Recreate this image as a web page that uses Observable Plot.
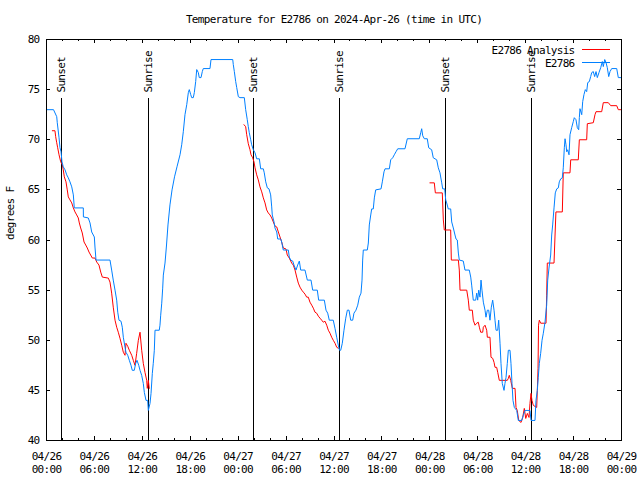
<!DOCTYPE html>
<html><head><meta charset="utf-8">
<script src="https://cdn.jsdelivr.net/npm/d3@7"></script>
<script src="https://cdn.jsdelivr.net/npm/@observablehq/plot@0.6"></script>
<style>body{margin:0;background:#fff} svg{display:block}</style>
</head><body><div id="chart"></div>
<script>
const titleText = "Temperature for E2786 on 2024-Apr-26 (time in UTC)";
const yLabel = "degrees F";
const seriesNames = ["E2786 Analysis", "E2786"];
const seriesColors = ["#ff0000", "#0080ff"];

// hours since 2024-04-26 00:00 UTC
const xTickHours = [0, 6, 12, 18, 24, 30, 36, 42, 48, 54, 60, 66, 72];
const xTickLabels = ["04/26\n00:00","04/26\n06:00","04/26\n12:00","04/26\n18:00","04/27\n00:00","04/27\n06:00","04/27\n12:00","04/27\n18:00","04/28\n00:00","04/28\n06:00","04/28\n12:00","04/28\n18:00","04/29\n00:00"];
const xMinorHours = [2,4,8,10,14,16,20,22,26,28,32,34,38,40,44,46,50,52,56,58,62,64,68,70];
const yTicks = [40, 45, 50, 55, 60, 65, 70, 75, 80];
const yTickLabels = ["40","45","50","55","60","65","70","75","80"];

const sunHours = [1.88, 12.77, 25.92, 36.69, 49.96, 60.73];
const sunLabels = ["Sunset", "Sunrise", "Sunset", "Sunrise", "Sunset", "Sunrise"];

const blueHours = [0,0.88,1.28,1.35,1.57,1.69,1.82,1.94,2.10,2.32,
2.53,2.73,2.94,3.16,3.36,3.48,4.61,4.62,5.23,5.45,
5.66,5.99,6.07,6.20,7.95,8.16,8.36,8.58,8.79,8.92,
9.08,9.33,9.49,9.62,9.83,9.95,10.17,10.37,10.58,10.74,
10.99,11.17,11.33,11.55,11.71,11.92,12.12,12.25,12.46,12.67,
12.75,12.96,13.09,13.25,13.37,13.50,13.59,14.12,14.21,14.30,
14.43,14.55,14.63,14.84,15.03,15.21,15.46,15.72,16.03,16.34,
16.72,16.93,17.13,17.34,17.56,17.76,17.88,18.06,18.18,18.38,
18.51,18.68,18.81,19.01,19.13,19.35,19.51,19.63,20.47,20.60,
23.32,23.39,23.52,23.69,23.82,24.02,24.23,24.77,24.94,25.14,
25.27,25.39,25.57,25.69,25.90,26.11,26.32,26.65,26.82,27.15,
27.27,27.45,27.65,27.86,28.07,28.20,28.27,28.49,28.61,28.83,
28.95,29.33,29.45,29.65,30.28,30.40,30.58,30.83,30.99,31.24,
31.45,31.66,31.83,32.37,32.66,33.12,33.33,33.91,34.08,34.79,
35.00,35.21,35.41,35.91,36.12,36.34,36.54,36.69,36.84,37.04,
37.25,37.47,37.67,37.88,38.09,38.34,38.50,38.75,38.97,39.17,
39.38,39.51,39.59,39.67,40.17,40.30,40.42,40.60,40.72,40.92,
41.05,41.22,41.89,42.05,42.26,42.39,42.93,43.10,43.35,43.55,
43.76,43.98,44.89,45.18,46.68,46.86,46.98,47.11,47.31,47.68,
47.86,48.23,48.43,48.86,49.06,49.27,49.49,49.61,49.86,49.99,
50.11,50.31,50.61,50.74,50.94,51.15,51.28,51.44,51.57,51.69,
52.19,52.40,52.94,53.12,53.24,53.44,53.74,53.87,53.99,54.12,
54.28,54.41,54.53,54.70,54.91,55.03,55.20,55.37,55.53,55.70,
55.87,56.04,56.16,56.29,56.50,56.62,56.79,56.91,57.07,57.29,
57.41,57.54,57.70,57.83,58.04,58.16,58.29,58.41,58.58,58.88,
59.08,59.50,59.70,59.92,60.54,60.67,61.17,61.29,61.46,61.58,
61.71,61.88,62.05,62.21,62.42,62.63,62.76,62.92,63.13,63.26,
63.38,63.55,63.71,63.89,64.09,64.21,64.39,64.59,64.71,64.84,
64.93,65.05,65.14,65.26,65.43,65.55,65.76,65.96,66.09,66.30,
66.47,66.64,66.72,66.80,67.02,67.14,67.30,67.47,67.64,67.77,
67.97,68.14,68.27,68.47,68.64,68.81,68.97,69.18,69.40,69.60,
69.72,69.90,70.06,70.22,70.40,70.56,70.77,71.40,71.60,72];
const blueTemps = [73,73,72.3,71.7,70.2,69.2,68.8,67.8,67.3,67,
66.5,66.2,65.8,65.3,64.5,63.2,63.2,62.3,62.2,61.7,
60.8,60.3,59.3,58,58,57,56,55,54,52.8,
52,51.9,51.3,50.3,49.3,48.8,48.5,48,47.5,47,
47,47.7,48,47.5,47,46.5,45.7,44.8,44,44,
43,43.7,44.7,46.7,47.7,49,51,51,51.5,52.5,
53.7,55.2,56.5,57.7,59.5,61.5,63.5,65,66.3,67.3,
68.5,69.5,70.8,72.5,73.5,74.7,75,74.5,74.2,74.2,
74.7,75.8,77,76.7,76.2,76.2,76.8,77.1,77.1,78,
78,77.5,76.8,75.8,75.2,74.3,74.2,74.2,73,72,
71.3,70.7,70,69.5,69,68.7,68.1,68.1,67.1,67.1,
66.7,65.8,65.2,65.1,64.5,63.3,62.5,61.8,61.2,60.8,
60.1,60.1,59.8,59,59,58.3,58,57.9,57.5,57,
57.5,57.9,57,57,56,56,55,55,54,54,
53,52.7,52,52,51.2,50.3,49.5,49,49,49.7,
51,52.2,53,53,52,52,52.7,53,53.5,54.3,
54.7,56,58,59,59,59.7,61.5,62.5,63.1,63.1,
64.2,65,65.1,65.8,66.8,67.1,67.1,68,68.2,68.5,
68.8,69.1,69.1,70.1,70.1,70.7,71.1,70.4,70.1,70.1,
69.2,69,68.2,68,67.2,66.7,65.7,65.1,65.1,64,
63.7,63.1,63.1,61.8,61.2,60.5,60.1,60,58.7,58,
57.9,57,57,56.3,55.5,54,54,54.7,54,55,
54.3,56,55,53.8,53,52.3,53,53,52,53.3,
54,53,52,51,51,52,49.7,47.7,45.7,45,
45.7,46.3,47.7,49,49,47.7,45.7,44,43.3,43,
42,42,42.5,43,43,42,42,44,45,46.3,
47.7,48.7,50,50.7,51.8,53.5,56,57.2,58.5,60.5,
61.5,63.2,64.7,65.1,65.2,65.8,66.1,66.2,67.2,69.2,
70.1,69.5,68.8,69,68.5,70.5,71.2,71.8,72.2,72,
71.2,71,72.2,73.1,72.5,73.8,74.5,75,74.8,75.7,
75.8,76.3,76.7,76.8,76.3,76.8,76.2,76.7,77.2,77.8,
77.3,78,77.7,77.2,76.3,76.8,77.1,77.1,76.2,76.2];

const redHours1 = [0.73,1.06,1.15,1.28,1.40,1.57,1.78,1.98,2.10,2.23,
2.44,2.60,2.73,2.94,3.16,3.36,3.57,3.78,3.98,4.11,
4.28,4.48,4.70,4.91,5.11,5.32,5.53,5.74,6.07,6.29,
6.57,6.79,6.99,7.74,7.95,8.16,8.36,8.58,8.79,8.99,
9.20,9.42,9.62,9.83,9.95,10.17,10.37,10.67,10.87,11.08,
11.29,11.50,11.71,11.92,12.12,12.33,12.55,12.62,12.75,12.87];
const redTemps1 = [70.9,70.9,70.3,69.7,69.2,68.5,67.8,67.5,67,66.3,
65.8,65,64.3,64,63.7,63.2,62.8,62.5,62.2,61.7,
61.2,60.7,59.8,59.5,59.2,58.8,58.5,58.2,58.2,57.8,
57.5,56.8,56.3,56.2,55.8,54.7,53.3,52,51.3,50.8,
50.2,49.5,48.8,48.5,49.7,49.4,49,48.5,48,47.5,
48.7,50,50.8,49,47.7,46.8,46,45.2,46,45.2];
const redHours2 = [24.73,24.94,25.07,25.27,25.48,25.61,25.82,25.98,26.11,26.32,
26.52,26.73,26.95,27.15,27.36,27.57,27.77,27.99,28.20,28.40,
28.61,28.83,29.03,29.24,29.45,29.65,29.99,30.15,30.40,30.70,
30.90,31.12,31.33,31.53,31.74,31.96,32.16,32.37,32.58,32.78,
32.99,33.21,33.41,33.62,33.83,34.04,34.25,34.46,34.66,34.87,
35.09,35.29,35.50,35.71,35.91,36.13,36.34,36.54];
const redTemps2 = [71.5,71.3,70.5,69.6,69,68.5,68.2,67.8,67.2,66.5,
66,65.3,64.8,64.2,63.7,63,62.7,62.5,62.2,61.8,
61.4,61.3,60.8,60.3,59.8,59.2,59.1,58.5,58.2,57.7,
57.5,57,56.3,55.7,55.3,55,54.8,54.6,54.3,54.3,
53.8,53.5,53.2,52.8,52.7,52.4,52.2,52,51.8,51.9,
51.5,51,50.7,50.3,50,49.7,49.3,49.2];
const redHours3 = [48.01,48.56,48.69,49.56,49.69,49.81,50.61,50.69,51.57,51.69,
51.78,52.62,52.82,52.94,53.32,53.44,53.66,53.87,54.07,54.20,
54.37,54.62,54.70,54.91,55.12,55.20,55.53,55.66,55.87,56.04,
56.16,56.37,56.50,56.70,57.70,57.83,57.95,58.13,58.33,58.67,
58.79,58.95,59.13,59.42,59.63,59.83,60.01,60.21,60.42,60.54,
60.67,60.79,60.96,61.38,61.46,61.55,61.61,61.71,61.88,62.55,
62.63,62.71,63.55,63.67,63.79,64.59,64.71,65.55,65.64,66.59,
66.72,67.64,67.72,68.47,68.68,68.81,69.52,69.72,70.35,70.65,
71.40,71.60,72];
const redTemps3 = [65.7,65.7,64.7,64.7,62,61,61,58,58,57,
55,55,54,53,53,52,51.5,51.7,51.8,51.3,
50.8,50.8,51.3,51.5,51,50.3,50.3,48.3,48.2,47.8,
47.3,47.3,46.8,46,46,46.2,46.5,46,45.2,45.2,
43.3,43,42,41.8,42.3,43.2,42.2,42.7,42.3,43.7,
44.7,44,43.5,43.3,45,47.2,51.5,52,51.7,51.7,
54.5,57.7,57.7,60.3,62.8,62.8,66.7,66.7,68,68,
70,70,71.6,71.7,72.5,72.8,72.8,73.7,73.7,73.4,
73.4,73,73];

const start = Date.UTC(2024, 3, 26);
const toDate = h => new Date(start + h * 3600000);

const blue = blueHours.map((h, i) => ({t: toDate(h), v: blueTemps[i]}));
const red = [[redHours1, redTemps1], [redHours2, redTemps2], [redHours3, redTemps3]]
  .flatMap(([hs, vs], s) => hs.map((h, i) => ({t: toDate(h), v: vs[i], s})));
const sun = sunHours.map((h, i) => ({t: toDate(h), label: sunLabels[i]}));
const xTicks = xTickHours.map(toDate);
const xMinor = xMinorHours.map(toDate);
const xLabelMap = new Map(xTicks.map((d, i) => [+d, xTickLabels[i]]));
const yLabelMap = new Map(yTicks.map((d, i) => [d, yTickLabels[i]]));

const chart = Plot.plot({
  width: 640, height: 480,
  marginLeft: 46, marginRight: 19, marginTop: 39, marginBottom: 40,
  style: {fontFamily: "'DejaVu Sans Mono', monospace", fontSize: "11px", letterSpacing: "-0.7px", background: "white", color: "black"},
  x: {type: "utc", domain: [toDate(0), toDate(72)]},
  y: {domain: [40, 80]},
  marks: [
    Plot.ruleX(sun, {x: "t", insetTop: 59, stroke: "black", shapeRendering: "crispEdges"}),
    Plot.text(sun, {x: "t", text: "label", frameAnchor: "top", lineAnchor: "middle", dy: 53, rotate: -90, textAnchor: "start", fill: "black"}),
    Plot.line(red, {x: "t", y: "v", z: "s", stroke: seriesColors[0], strokeWidth: 1}),
    Plot.line(blue, {x: "t", y: "v", stroke: seriesColors[1], strokeWidth: 1}),
    Plot.frame({stroke: "black", shapeRendering: "crispEdges"}),
    Plot.ruleX(xTicks, {x: d => d, insetTop: 397, stroke: "black", shapeRendering: "crispEdges"}),
    Plot.ruleX(xTicks, {x: d => d, insetBottom: 397, stroke: "black", shapeRendering: "crispEdges"}),
    Plot.ruleX(xMinor, {x: d => d, insetTop: 399, stroke: "black", shapeRendering: "crispEdges"}),
    Plot.ruleX(xMinor, {x: d => d, insetBottom: 399, stroke: "black", shapeRendering: "crispEdges"}),
    Plot.ruleY(yTicks, {y: d => d, insetRight: 571, stroke: "black", shapeRendering: "crispEdges"}),
    Plot.ruleY(yTicks, {y: d => d, insetLeft: 571, stroke: "black", shapeRendering: "crispEdges"}),
    Plot.axisY(yTicks, {anchor: "left", tickSize: 0, tickPadding: 7, label: null, tickFormat: d => yLabelMap.get(d), fill: "black"}),
    Plot.axisX(xTicks, {anchor: "bottom", tickSize: 0, tickPadding: 10, label: null, tickFormat: d => xLabelMap.get(+d), lineHeight: 1.18, fill: "black"}),
    Plot.text([titleText], {frameAnchor: "top", lineAnchor: "middle", dy: -20, fill: "black"}),
    Plot.text([yLabel], {frameAnchor: "left", lineAnchor: "middle", dx: -36, rotate: -90, fill: "black"}),
    Plot.text([seriesNames[0]], {frameAnchor: "top-right", lineAnchor: "middle", dx: -47, dy: 10.5, textAnchor: "end", fill: "black"}),
    Plot.text([seriesNames[1]], {frameAnchor: "top-right", lineAnchor: "middle", dx: -47, dy: 23.5, textAnchor: "end", fill: "black"})
  ]
});
document.getElementById("chart").appendChild(chart);

// legend sample lines
const svg = d3.select(chart);
const legendRows = [49.5, 62.5];
legendRows.forEach((yy, i) => {
  svg.append("line").attr("x1", 582).attr("x2", 610).attr("y1", yy).attr("y2", yy)
    .attr("stroke", seriesColors[i]).attr("stroke-width", 1);
});
</script></body></html>
